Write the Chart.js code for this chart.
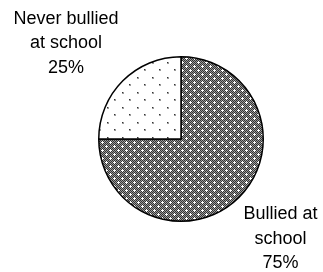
<!DOCTYPE html>
<html>
<head>
<meta charset="utf-8">
<script src="https://cdn.jsdelivr.net/npm/chart.js@4.4.0/dist/chart.umd.min.js"></script>
<style>
    html, body { margin: 0; padding: 0; background: #fff; }
    #wrap { width: 323px; height: 272px; }
</style>
</head>
<body>
<div id="wrap"><canvas id="bullyPie" width="323" height="272"></canvas></div>
<script>
// Data
const categories = [['Bullied at', 'school'], ['Never bullied', 'at school']];
const percentValues = [75, 25];
const valueLabels = ['75%', '25%'];

// Small helper for the Excel-like fill patterns
function makePattern(size, draw) {
    const tile = document.createElement('canvas');
    tile.width = size;
    tile.height = size;
    const g = tile.getContext('2d');
    g.fillStyle = '#fff';
    g.fillRect(0, 0, size, size);
    draw(g);
    return g.createPattern(tile, 'repeat');
}

// trellis-like crosshatch for "Bullied": grey checker with white plus marks
const crossHatch = makePattern(8, g => {
    for (let y = 0; y < 8; y++) {
        for (let x = 0; x < 8; x++) {
            g.fillStyle = (x + y) % 2 === 0 ? '#333' : '#9a9a9a';
            g.fillRect(x, y, 1, 1);
        }
    }
    g.fillStyle = '#fff';
    [[2, 2], [6, 6]].forEach(([cx, cy]) => {
        [[0, 0], [1, 0], [-1, 0], [0, 1], [0, -1]].forEach(([ox, oy]) => {
            g.fillRect((cx + ox + 8) % 8, (cy + oy + 8) % 8, 1, 1);
        });
    });
});

// sparse staggered dots for "Never bullied"
const dotFill = makePattern(15, g => {
    g.fillStyle = '#9a9a9a';
    g.fillRect(2, 2, 2, 2);
    g.fillRect(9, 9, 2, 2);
    g.fillStyle = '#333';
    g.fillRect(2, 2, 1, 1);
    g.fillRect(9, 9, 1, 1);
});

// Labels outside the pie, placed off the corner nearest to each slice
const outsideLabels = {
    id: 'outsideLabels',
    afterDatasetsDraw(chart) {
        const ctx = chart.ctx;
        const meta = chart.getDatasetMeta(0);
        const lineH = 24.5;
        ctx.save();
        ctx.font = '18px "Liberation Sans", Arial, sans-serif';
        ctx.fillStyle = '#000';
        ctx.textAlign = 'center';
        ctx.textBaseline = 'middle';
        meta.data.forEach((arc, i) => {
            const p = arc.getProps(['x', 'y', 'startAngle', 'endAngle', 'outerRadius'], true);
            const mid = (p.startAngle + p.endAngle) / 2;
            const dx = Math.cos(mid);
            const dy = Math.sin(mid);
            const ax = p.x + dx * (p.outerRadius + 6);
            const ay = p.y + dy * (p.outerRadius + 4);
            const lines = [...categories[i], valueLabels[i]];
            const w = Math.max(...lines.map(l => ctx.measureText(l).width));
            const h = lines.length * lineH;
            const cx = dx < 0 ? ax - w / 2 : ax + w / 2;
            const top = dy < 0 ? ay - h : ay;
            lines.forEach((l, k) => ctx.fillText(l, cx, top + lineH * (k + 0.5) + 2));
        });
        ctx.restore();
    }
};

new Chart(document.getElementById('bullyPie'), {
    type: 'pie',
    data: {
        labels: categories.map(c => c.join(' ')),
        datasets: [{
            data: percentValues,
            backgroundColor: [crossHatch, dotFill],
            borderColor: '#000',
            borderWidth: 1.5
        }]
    },
    options: {
        responsive: false,
        animation: false,
        layout: { padding: { left: 98, right: 59, top: 56, bottom: 50 } },
        plugins: {
            legend: { display: false },
            tooltip: { enabled: false }
        }
    },
    plugins: [outsideLabels]
});
</script>
</body>
</html>
